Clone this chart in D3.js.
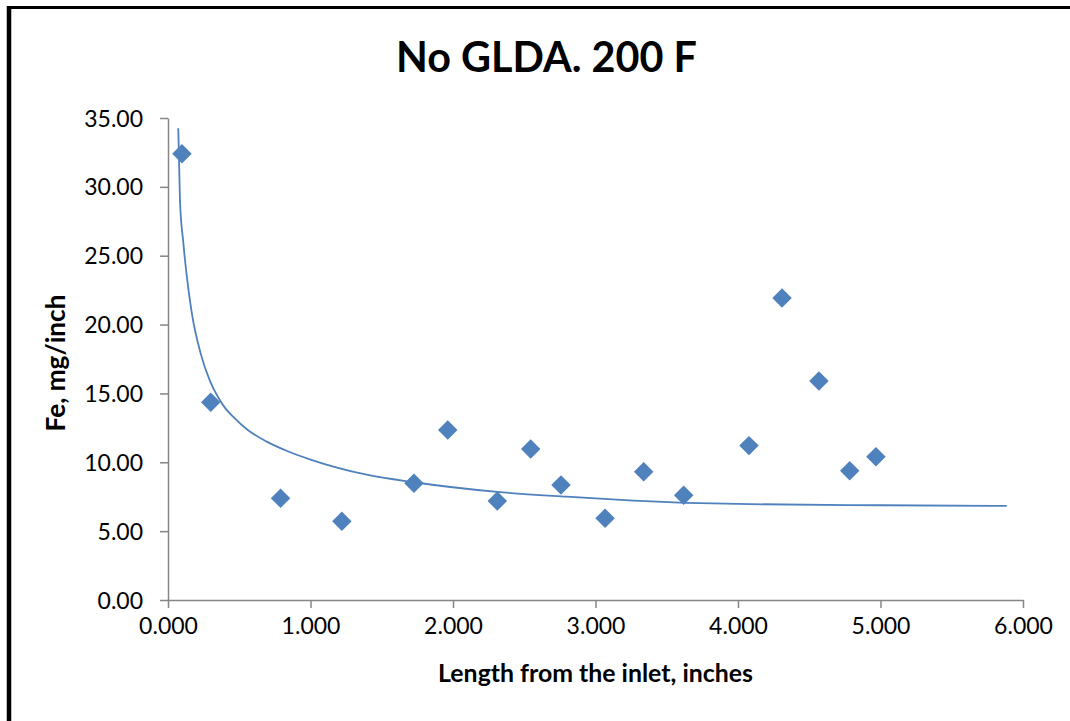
<!DOCTYPE html>
<html><head><meta charset="utf-8">
<script src="https://cdn.jsdelivr.net/npm/d3@7"></script>
<style>
html,body{margin:0;padding:0;background:#fff;}
svg{display:block;}
</style></head>
<body>
<svg id="c" width="1070" height="721"></svg>
<script>
// ---- data ----
const xValues = [0.098, 0.300, 0.790, 1.220, 1.726, 1.963, 2.311, 2.545, 2.758, 3.067, 3.338, 3.619, 4.077, 4.309, 4.568, 4.784, 4.968];
const yValues = [32.40, 14.36, 7.38, 5.71, 8.47, 12.35, 7.19, 10.97, 8.35, 5.93, 9.32, 7.60, 11.21, 21.93, 15.90, 9.39, 10.41];
const trendX = [0.072, 0.084, 0.107, 0.132, 0.166, 0.232, 0.295, 0.353, 0.400, 0.458, 0.560, 0.693, 0.840, 1.000, 1.394, 1.726, 2.311, 2.798, 3.265, 3.733, 4.084, 5.000, 5.886];
const trendY = [34.26, 29.05, 26.00, 23.50, 20.90, 17.80, 15.90, 14.70, 13.95, 13.30, 12.35, 11.50, 10.80, 10.20, 9.10, 8.55, 7.85, 7.50, 7.22, 7.03, 6.96, 6.88, 6.83];
const xTicks = [0, 1, 2, 3, 4, 5, 6];
const yTicks = [0, 5, 10, 15, 20, 25, 30, 35];
const titleText = "No GLDA. 200 F";
const xTitle = "Length from the inlet, inches";
const yTitle = "Fe, mg/inch";

const svg = d3.select("#c");
const font = "Lato, 'Open Sans', sans-serif";
const blue = "#4F81BD";
const axisGray = "#868686";

// outer border (top and left)
svg.append("line").attr("x1",9).attr("x2",1070).attr("y1",7.5).attr("y2",7.5).attr("stroke","#000").attr("stroke-width",3);
svg.append("line").attr("x1",9).attr("x2",9).attr("y1",6).attr("y2",721).attr("stroke","#000").attr("stroke-width",4.5);

const x = d3.scaleLinear().domain([0,6]).range([168,1023]);
const y = d3.scaleLinear().domain([0,35]).range([600,118]);

// axes
const gx = svg.append("g").attr("transform","translate(0,600)")
  .call(d3.axisBottom(x).tickValues(xTicks).tickFormat(d3.format(".3f")).tickSize(8).tickSizeOuter(0).tickPadding(10));
const gy = svg.append("g").attr("transform","translate(168,0)")
  .call(d3.axisLeft(y).tickValues(yTicks).tickFormat(d3.format(".2f")).tickSize(8).tickSizeOuter(0).tickPadding(17));
[gx,gy].forEach(g=>{
  g.select(".domain").attr("stroke",axisGray).attr("stroke-width",1.5);
  g.selectAll(".tick line").attr("stroke",axisGray).attr("stroke-width",1.5);
  g.selectAll(".tick text").attr("fill","#000").style("font-family",font).style("font-size","23px");
});
gx.selectAll(".tick text").attr("dy","0.71em");
gy.selectAll(".tick text").attr("dy","0.35em");

// trend line
const line = d3.line().x((d,i)=>x(trendX[i])).y((d,i)=>y(trendY[i])).curve(d3.curveMonotoneX);
svg.append("path").datum(trendX).attr("d",line).attr("fill","none").attr("stroke",blue).attr("stroke-width",1.8);

// markers
const diamond = d3.symbol().type(d3.symbolSquare).size(190);
svg.append("g").selectAll("path").data(xValues).join("path")
  .attr("d",diamond)
  .attr("transform",(d,i)=>`translate(${x(d)},${y(yValues[i])}) rotate(45)`)
  .attr("fill",blue);

// text helper fitting a target width
function fitText(sel, target, base){
  sel.style("font-size",base+"px");
  const w = sel.node().getComputedTextLength();
  sel.style("font-size",(base*target/w)+"px");
}
const t = svg.append("text").attr("x",546.5).attr("y",71.5).attr("text-anchor","middle")
  .style("font-family",font).style("font-weight","bold").attr("fill","#000").text(titleText);
fitText(t,301,40);
const xt = svg.append("text").attr("x",595.5).attr("y",681.5).attr("text-anchor","middle")
  .style("font-family",font).style("font-weight","bold").attr("fill","#000").text(xTitle);
fitText(xt,315,22);
const yt = svg.append("text").attr("transform","translate(65,363) rotate(-90)").attr("text-anchor","middle")
  .style("font-family",font).style("font-weight","bold").attr("fill","#000").text(yTitle);
fitText(yt,137,22);
</script>
</body></html>
